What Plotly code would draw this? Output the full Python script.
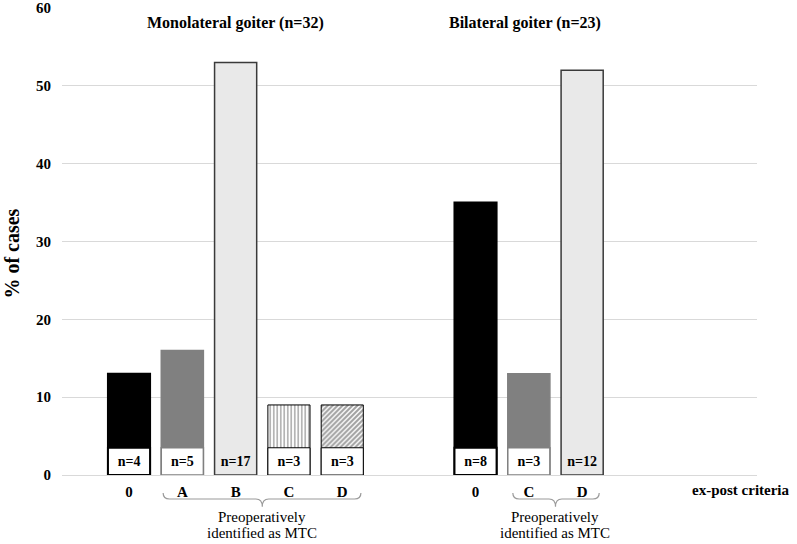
import plotly.graph_objects as go

# ---- data ----
mono_categories = ["0", "A", "B", "C", "D"]
mono_pct = [13, 16, 53, 9, 9]
mono_n = [4, 5, 17, 3, 3]

bi_categories = ["0", "C", "D"]
bi_pct = [35, 13, 52]
bi_n = [8, 3, 12]

mono_title = "Monolateral goiter (n=32)"
bi_title = "Bilateral goiter (n=23)"
y_ticks = [0, 10, 20, 30, 40, 50, 60]

# ---- layout helpers ----
mono_x = [i for i in range(len(mono_categories))]
bi_x = [6.5 + i for i in range(len(bi_categories))]
BW = 0.79
LABEL_H = 3.5
SERIF = "Liberation Serif, Times New Roman, serif"
CLEAR = "rgba(0,0,0,0)"

mono_fill = ["#000000", "#808080", "#e9e9e9", "#ffffff", "#ffffff"]
mono_line = ["#000000", "#808080", "#3a3a3a", "#000000", "#000000"]
mono_line_w = [2, 1.5, 1.5, 1, 1]
mono_pattern = ["", "", "", "|", "/"]
mono_pattern_size = [4, 4, 4, 3.5, 3.5]
mono_pattern_solidity = [0.4, 0.4, 0.4, 0.4, 0.6]
mono_box_fill = ["#ffffff", "#ffffff", CLEAR, "#ffffff", "#ffffff"]
mono_box_line_w = [2, 1.5, 0, 1, 1]

bi_fill = ["#000000", "#808080", "#e9e9e9"]
bi_line = ["#000000", "#808080", "#3a3a3a"]
bi_line_w = [2, 1.5, 1.5]
bi_box_fill = ["#ffffff", "#ffffff", CLEAR]
bi_box_line_w = [2, 1.5, 0]

fig = go.Figure()

# main bars
fig.add_trace(go.Bar(
    x=mono_x, y=mono_pct, width=BW,
    marker=dict(color=mono_fill,
                line=dict(color=mono_line, width=mono_line_w),
                pattern=dict(shape=mono_pattern, fgcolor="#000000", bgcolor="#ffffff",
                             size=mono_pattern_size, solidity=mono_pattern_solidity)),
    hoverinfo="skip", showlegend=False))
fig.add_trace(go.Bar(
    x=bi_x, y=bi_pct, width=BW,
    marker=dict(color=bi_fill, line=dict(color=bi_line, width=bi_line_w)),
    hoverinfo="skip", showlegend=False))

# n-label boxes
fig.add_trace(go.Bar(
    x=mono_x, y=[LABEL_H] * len(mono_x), width=BW,
    marker=dict(color=mono_box_fill, line=dict(color=mono_line, width=mono_box_line_w)),
    text=[f"<b>n={v}</b>" for v in mono_n], textposition="inside",
    insidetextanchor="middle", textangle=0,
    textfont=dict(family=SERIF, size=14, color="#000000"),
    hoverinfo="skip", showlegend=False))
fig.add_trace(go.Bar(
    x=bi_x, y=[LABEL_H] * len(bi_x), width=BW,
    marker=dict(color=bi_box_fill, line=dict(color=bi_line, width=bi_box_line_w)),
    text=[f"<b>n={v}</b>" for v in bi_n], textposition="inside",
    insidetextanchor="middle", textangle=0,
    textfont=dict(family=SERIF, size=14, color="#000000"),
    hoverinfo="skip", showlegend=False))

x_lo = -1.257
x_hi = 11.78

annotations = [
    dict(x=2.0, y=58.1, xref="x", yref="y", text=f"<b>{mono_title}</b>", showarrow=False,
         font=dict(family=SERIF, size=16, color="#000000")),
    dict(x=7.43, y=58.1, xref="x", yref="y", text=f"<b>{bi_title}</b>", showarrow=False,
         font=dict(family=SERIF, size=16, color="#000000")),
    dict(x=0.977, y=-0.032, xref="paper", yref="paper", xanchor="center", yanchor="middle",
         text="<b>ex-post criteria</b>",
         showarrow=False, font=dict(family=SERIF, size=15, color="#000000")),
    dict(x=-0.072, y=0.474, xref="paper", yref="paper", xanchor="center", yanchor="middle",
         text="<b>% of cases</b>",
         textangle=-90, showarrow=False, font=dict(family=SERIF, size=20, color="#000000")),
]
for cx in (2.5, 8.0):
    annotations.append(dict(x=cx, y=-0.09, xref="x", yref="paper", yanchor="middle",
                            text="Preoperatively", showarrow=False,
                            font=dict(family=SERIF, size=15, color="#000000")))
    annotations.append(dict(x=cx, y=-0.125, xref="x", yref="paper", yanchor="middle",
                            text="identified as MTC", showarrow=False,
                            font=dict(family=SERIF, size=15, color="#000000")))


def brace(x0, x1, xc):
    yt, ym, yp = -0.0385, -0.0514, -0.068
    d = 0.12
    path = (f"M {x0},{yt} Q {x0},{ym} {x0 + d},{ym} L {xc - d},{ym} "
            f"Q {xc},{ym} {xc},{yp} Q {xc},{ym} {xc + d},{ym} "
            f"L {x1 - d},{ym} Q {x1},{ym} {x1},{yt}")
    return dict(type="path", path=path, xref="x", yref="paper",
                line=dict(color="#9a9a9a", width=1.2))


shapes = [brace(0.64, 4.35, 2.5), brace(7.2, 8.82, 8.0)]

fig.update_layout(
    width=797, height=544,
    margin=dict(l=62, r=40, t=8, b=69),
    barmode="overlay",
    plot_bgcolor="#ffffff", paper_bgcolor="#ffffff",
    annotations=annotations, shapes=shapes,
    xaxis=dict(range=[x_lo, x_hi], tickvals=mono_x + bi_x,
               ticktext=mono_categories + bi_categories,
               tickfont=dict(family=SERIF, size=15, color="#000000", weight="bold"),
               showgrid=False, zeroline=False, showline=False, ticks="",
               ticklabelstandoff=6, automargin=False),
    yaxis=dict(range=[0, 60], tickvals=y_ticks,
               tickfont=dict(family=SERIF, size=15, color="#000000", weight="bold"),
               showgrid=True, gridcolor="#d9d9d9", gridwidth=1,
               zeroline=True, zerolinecolor="#d9d9d9", zerolinewidth=1,
               showline=False, ticks="", ticklabelstandoff=10, automargin=False),
)

fig.write_html("out.html", config={"displayModeBar": False},
               post_script="document.body.style.margin='0';document.body.style.padding='0';")
